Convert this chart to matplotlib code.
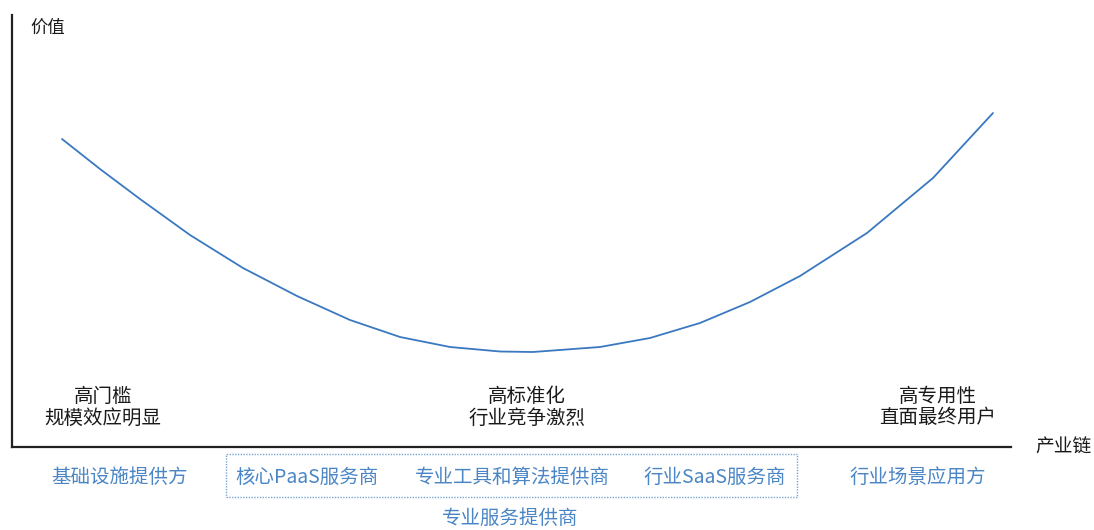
import matplotlib
matplotlib.use("Agg")
import matplotlib.pyplot as plt
from matplotlib.patches import Rectangle

plt.rcParams['font.family'] = ['Noto Sans CJK SC', 'DejaVu Sans']

# Smile curve: position along the industry chain vs value
chain_pos = [62, 100, 140, 190, 243, 297, 350, 400, 450, 500, 533, 600,
             650, 700, 750, 800, 867, 933, 993]
value = [308, 278, 248, 212, 179, 151, 127, 110, 100, 95.5, 95, 100,
         109, 124, 145, 171, 214, 269, 334]

y_label = "价值"
x_label = "产业链"
stage_notes = ["高门槛\n规模效应明显", "高标准化\n行业竞争激烈", "高专用性\n直面最终用户"]
players = ["基础设施提供方", "核心PaaS服务商", "专业工具和算法提供商",
           "行业SaaS服务商", "行业场景应用方"]
group_label = "专业服务提供商"

W, H = 1094, 530
fig = plt.figure(figsize=(W / 100, H / 100), dpi=100)

def fx(px):
    return px / W

def fy(py):
    return 1 - py / H

ax_left, ax_right, ax_top, ax_bottom = 12, 1011, 15, 447
ax = fig.add_axes([fx(ax_left), fy(ax_bottom), fx(ax_right - ax_left),
                   (ax_bottom - ax_top) / H])
ax.set_xlim(ax_left, ax_right)
ax.set_ylim(0, ax_bottom - ax_top)
ax.plot(chain_pos, value, color='#3a78c0', lw=1.3, solid_capstyle='round',
        solid_joinstyle='round')
for s in ['top', 'right']:
    ax.spines[s].set_visible(False)
for s in ['left', 'bottom']:
    ax.spines[s].set_linewidth(1.6)
    ax.spines[s].set_color('#222222')
ax.set_xticks([])
ax.set_yticks([])

black = '#1a1a1a'
blue = '#4a86c5'

fig.text(fx(48), fy(28), y_label, ha='center', va='center', fontsize=12.5, color=black)
fig.text(fx(1063), fy(447), x_label, ha='center', va='center', fontsize=13.5, color=black)

note_x = [103, 527, 938]
for x, t in zip(note_x, stage_notes):
    fig.text(fx(x), fy(407), t, ha='center', va='center', fontsize=14,
             color=black, linespacing=1.05)

player_x = [120, 307, 512, 715, 918]
for x, t in zip(player_x, players):
    fig.text(fx(x), fy(477), t, ha='center', va='center', fontsize=14, color=blue)

box = Rectangle((fx(226), fy(497)), fx(797 - 226), (497 - 454) / H,
                transform=fig.transFigure, fill=False, edgecolor='#7aa6d6',
                lw=1.0, linestyle=(0, (1, 1)))
fig.add_artist(box)
fig.text(fx(510), fy(518), group_label, ha='center', va='center', fontsize=14, color=blue)

fig.savefig("out.png", dpi=100)
